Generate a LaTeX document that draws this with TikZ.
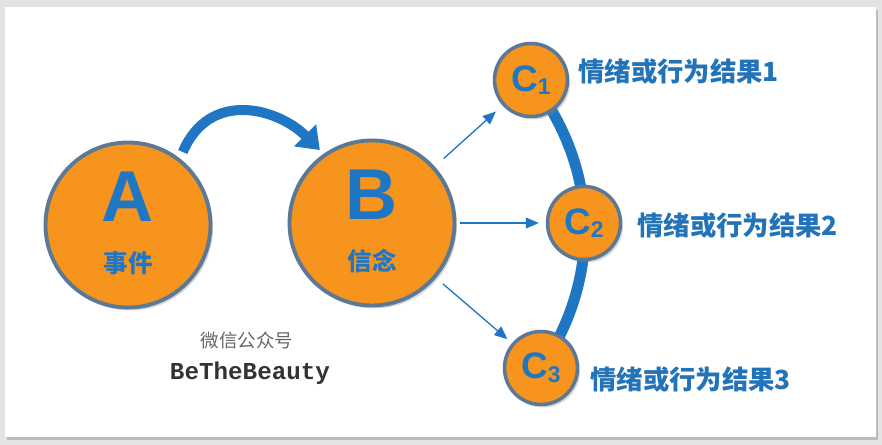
\documentclass[tikz,border=0pt]{standalone}
\usepackage{fontspec}
\setmainfont{Liberation Sans}
\newfontfamily\cjk{Noto Sans CJK SC}
\newfontfamily\slab{Liberation Mono}
\usetikzlibrary{arrows.meta,shadows,backgrounds}

\definecolor{corange}{HTML}{F7941E}
\definecolor{cring}{HTML}{5B7895}
\definecolor{cblue}{HTML}{1F77C4}
\definecolor{ctext}{HTML}{2373B9}

\tikzset{
	bigcirc/.style={circle, draw=cring, line width=2.2pt, fill=corange, minimum size=3.3cm, inner sep=0pt,
		drop shadow={opacity=0.3, shadow xshift=0.05cm, shadow yshift=-0.06cm}},
	smallcirc/.style={bigcirc, minimum size=1.46cm, line width=2pt, text=cblue,
		font=\bfseries\fontsize{21}{21}\selectfont},
	bigletter/.style={text=cblue, font=\bfseries\fontsize{41}{41}\selectfont, inner sep=0pt},
	inword/.style={text=cblue, font=\cjk\bfseries\fontsize{14}{14}\selectfont, inner sep=0pt},
	result/.style={anchor=west, text=ctext, inner sep=0pt, font=\cjk\bfseries\fontsize{15}{15}\selectfont},
	thinarrow/.style={draw=cblue, line width=0.75pt, -{Triangle[length=2.6mm,width=2.2mm]}},
}

\newcommand{\csub}[1]{{\fontsize{13}{13}\selectfont\raisebox{-2pt}{#1}}}

\begin{document}
\begin{tikzpicture}

	\path[use as bounding box] (0,0) rectangle (17.64,8.9);

	\node[bigcirc] (A) at (2.56,4.40) {};
	\node[bigletter] (Aletter) at ([yshift=0.56cm]A.center) {A};
	\node[inword] (Aword) at ([yshift=-0.76cm]A.center) {事件};

	\node[bigcirc] (B) at (7.44,4.44) {};
	\node[bigletter] (Bletter) at ([yshift=0.56cm]B.center) {B};
	\node[inword] (Bword) at ([yshift=-0.76cm]B.center) {信念};

	\node[smallcirc] (C1) at (10.62,7.30) {C\csub{1}};
	\node[smallcirc] (C2) at (11.68,4.44) {C\csub{2}};
	\node[smallcirc] (C3) at (10.82,1.54) {C\csub{3}};

	\node[result] (L1) at (11.56,7.46) {情绪或行为结果1};
	\node[result] (L2) at (12.74,4.38) {情绪或行为结果2};
	\node[result] (L3) at (11.80,1.30) {情绪或行为结果3};

	\node[text=gray!80!black, font=\cjk\fontsize{10.5}{10.5}\selectfont] (wx) at (4.94,2.10) {微信公众号};
	\node[text=black!80, font=\slab\bfseries\fontsize{13.8}{13.8}\selectfont] (name) at (5.0,1.44) {BeTheBeauty};

	\draw[cblue, line width=0.2cm, shorten <=4pt, shorten >=3pt, -{Triangle[length=0.42cm,width=0.6cm]}]
		(A.52) .. controls +(0.6,1.4) and +(-0.9,0.9) .. (B.125);

	\draw[thinarrow, shorten <=0.24cm, shorten >=0.18cm] (B) -- (C1);
	\draw[thinarrow, shorten <=0.08cm, shorten >=0.14cm] (B) -- (C2);
	\draw[thinarrow, shorten <=0.18cm, shorten >=0.12cm] (B) -- (C3);

	\begin{scope}[on background layer]
		\fill[gray!22] (0,0) rectangle (17.64,8.9);
		\fill[white, drop shadow={opacity=0.4, shadow xshift=0.04cm, shadow yshift=-0.06cm}]
			(0.1,0.16) rectangle (17.52,8.76);
		\draw[cblue, line width=0.22cm] (C1.center) to[bend left=36, looseness=0.98] (C3.center);
	\end{scope}

\end{tikzpicture}
\end{document}
